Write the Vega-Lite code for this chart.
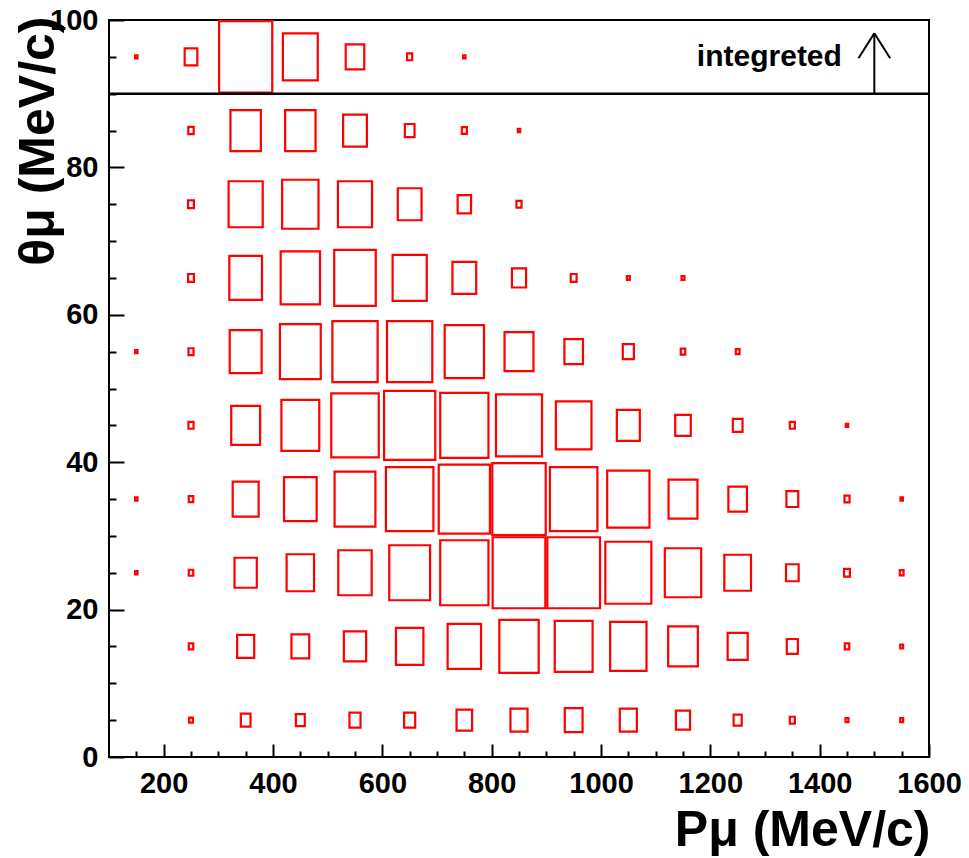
{
  "$schema": "https://vega.github.io/schema/vega-lite/v6.json",
  "autosize": "none",
  "width": 820,
  "height": 737,
  "padding": {"left": 109, "top": 20, "right": 40, "bottom": 101},
  "background": "white",
  "config": {
    "view": {"stroke": "black", "strokeWidth": 2},
    "axis": {
      "domain": false, "grid": false, "tickColor": "black", "tickWidth": 2, "labelFlush": false, "labelOverlap": false,
      "labelFont": "Liberation Sans", "labelFontWeight": "bold", "labelFontSize": 29, "labelColor": "black",
      "titleFont": "Liberation Sans", "titleFontWeight": "bold", "titleFontSize": 50, "titleColor": "black"
    }
  },
  "datasets": {
    "boxes": [
      {"p":150,"t":95,"n":2},{"p":250,"t":95,"n":56},{"p":350,"t":95,"n":990},{"p":450,"t":95,"n":426},{"p":550,"t":95,"n":121},{"p":650,"t":95,"n":9},{"p":750,"t":95,"n":2},
      {"p":250,"t":85,"n":10},{"p":350,"t":85,"n":324},{"p":450,"t":85,"n":324},{"p":550,"t":85,"n":198},{"p":650,"t":85,"n":33},{"p":750,"t":85,"n":9},{"p":850,"t":85,"n":2},
      {"p":250,"t":75,"n":12},{"p":350,"t":75,"n":408},{"p":450,"t":75,"n":463},{"p":550,"t":75,"n":408},{"p":650,"t":75,"n":198},{"p":750,"t":75,"n":63},{"p":850,"t":75,"n":9},
      {"p":250,"t":65,"n":12},{"p":350,"t":65,"n":373},{"p":450,"t":65,"n":542},{"p":550,"t":65,"n":605},{"p":650,"t":65,"n":408},{"p":750,"t":65,"n":198},{"p":850,"t":65,"n":70},{"p":950,"t":65,"n":12},{"p":1050,"t":65,"n":3},{"p":1150,"t":65,"n":3},
      {"p":150,"t":55,"n":2},{"p":250,"t":55,"n":9},{"p":350,"t":55,"n":357},{"p":450,"t":55,"n":584},{"p":550,"t":55,"n":718},{"p":650,"t":55,"n":718},{"p":750,"t":55,"n":542},{"p":850,"t":55,"n":293},{"p":950,"t":55,"n":121},{"p":1050,"t":55,"n":43},{"p":1150,"t":55,"n":7},{"p":1250,"t":55,"n":5},
      {"p":250,"t":45,"n":9},{"p":350,"t":45,"n":293},{"p":450,"t":45,"n":502},{"p":550,"t":45,"n":790},{"p":650,"t":45,"n":918},{"p":750,"t":45,"n":815},{"p":850,"t":45,"n":742},{"p":950,"t":45,"n":444},{"p":1050,"t":45,"n":185},{"p":1150,"t":45,"n":85},{"p":1250,"t":45,"n":33},{"p":1350,"t":45,"n":9},{"p":1450,"t":45,"n":2},
      {"p":150,"t":35,"n":2},{"p":250,"t":35,"n":7},{"p":350,"t":35,"n":236},{"p":450,"t":35,"n":373},{"p":550,"t":35,"n":584},{"p":650,"t":35,"n":790},{"p":750,"t":35,"n":918},{"p":850,"t":35,"n":1000},{"p":950,"t":35,"n":790},{"p":1050,"t":35,"n":627},{"p":1150,"t":35,"n":293},{"p":1250,"t":35,"n":121},{"p":1350,"t":35,"n":49},{"p":1450,"t":35,"n":9},{"p":1550,"t":35,"n":2},
      {"p":150,"t":25,"n":2},{"p":250,"t":25,"n":7},{"p":350,"t":25,"n":174},{"p":450,"t":25,"n":264},{"p":550,"t":25,"n":391},{"p":650,"t":25,"n":584},{"p":750,"t":25,"n":815},{"p":850,"t":25,"n":972},{"p":950,"t":25,"n":972},{"p":1050,"t":25,"n":742},{"p":1150,"t":25,"n":463},{"p":1250,"t":25,"n":250},{"p":1350,"t":25,"n":56},{"p":1450,"t":25,"n":12},{"p":1550,"t":25,"n":5},
      {"p":250,"t":15,"n":7},{"p":350,"t":15,"n":102},{"p":450,"t":15,"n":111},{"p":550,"t":15,"n":174},{"p":650,"t":15,"n":264},{"p":750,"t":15,"n":391},{"p":850,"t":15,"n":542},{"p":950,"t":15,"n":502},{"p":1050,"t":15,"n":463},{"p":1150,"t":15,"n":309},{"p":1250,"t":15,"n":141},{"p":1350,"t":15,"n":43},{"p":1450,"t":15,"n":7},{"p":1550,"t":15,"n":3},
      {"p":250,"t":5,"n":5},{"p":350,"t":5,"n":33},{"p":450,"t":5,"n":28},{"p":550,"t":5,"n":43},{"p":650,"t":5,"n":43},{"p":750,"t":5,"n":85},{"p":850,"t":5,"n":102},{"p":950,"t":5,"n":111},{"p":1050,"t":5,"n":102},{"p":1150,"t":5,"n":70},{"p":1250,"t":5,"n":23},{"p":1350,"t":5,"n":9},{"p":1450,"t":5,"n":3},{"p":1550,"t":5,"n":3}
    ],
    "arrow": [
      {"p":1500,"t":90,"p2":1500,"t2":98.2},
      {"p":1471,"t":94.8,"p2":1500,"t2":98.2},
      {"p":1529,"t":94.8,"p2":1500,"t2":98.2}
    ]
  },
  "layer": [
    {
      "data": {"name": "boxes"},
      "mark": {"type": "point", "shape": "M-0.742,-1H0.742V1H-0.742Z", "filled": false, "stroke": "#ff0000", "strokeWidth": 2.2, "opacity": 1},
      "encoding": {
        "x": {"field": "p", "type": "quantitative", "scale": {"domain": [100, 1600], "nice": false, "zero": false},
          "axis": {"orient": "bottom", "values": [200,400,600,800,1000,1200,1400,1600], "format": "d", "tickSize": -13, "labelPadding": 25,
            "title": "Pμ (MeV/c)", "titleAnchor": "end", "titleAlign": "right", "titleBaseline": "alphabetic", "titleX": 821, "titleY": 88}},
        "y": {"field": "t", "type": "quantitative", "scale": {"domain": [0, 100], "nice": false, "zero": false},
          "axis": {"orient": "left", "values": [0,20,40,60,80,100], "format": "d", "tickSize": -15, "labelPadding": 26,
            "title": "θμ (MeV/c)", "titleAngle": 270, "titleAnchor": "end", "titleAlign": "right", "titleBaseline": "alphabetic", "titleX": -56, "titleY": -4}},
        "size": {"field": "n", "type": "quantitative", "scale": {"domain": [0, 1000], "range": [0, 5184]}, "legend": null}
      }
    },
    {
      "data": {"name": "arrow"},
      "mark": {"type": "rule", "stroke": "black", "strokeWidth": 2},
      "encoding": {
        "x": {"field": "p", "type": "quantitative",
          "axis": {"orient": "bottom", "values": [150,250,300,350,450,500,550,650,700,750,850,900,950,1050,1100,1150,1250,1300,1350,1450,1500,1550], "tickSize": -6, "labels": false, "title": null}},
        "y": {"field": "t", "type": "quantitative",
          "axis": {"orient": "left", "values": [5,10,15,25,30,35,45,50,55,65,70,75,85,90,95], "tickSize": -7, "labels": false, "title": null}},
        "x2": {"field": "p2"},
        "y2": {"field": "t2"}
      }
    },
    {
      "data": {"values": [{"t": 90}]},
      "mark": {"type": "rule", "stroke": "black", "strokeWidth": 2.5},
      "encoding": {"y": {"field": "t", "type": "quantitative", "axis": null}}
    },
    {
      "data": {"values": [{"p": 1308, "t": 93.8, "label": "integreted"}]},
      "mark": {"type": "text", "font": "Liberation Sans", "fontWeight": "bold", "fontSize": 30, "align": "center", "baseline": "alphabetic", "color": "black"},
      "encoding": {
        "x": {"field": "p", "type": "quantitative", "axis": null},
        "y": {"field": "t", "type": "quantitative", "axis": null},
        "text": {"field": "label"}
      }
    }
  ],
  "resolve": {"axis": {"x": "independent", "y": "independent"}}
}
